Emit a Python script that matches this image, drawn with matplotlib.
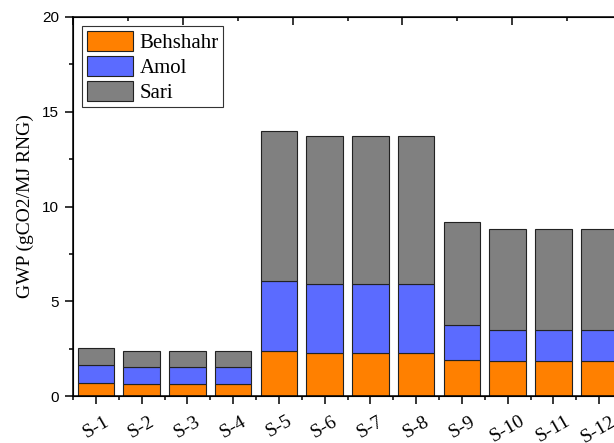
import numpy as np
import matplotlib
matplotlib.use('Agg')
import matplotlib.pyplot as plt
from matplotlib.ticker import MultipleLocator

# Data (stacked GWP contributions)
scenarios = ['S-1', 'S-2', 'S-3', 'S-4', 'S-5', 'S-6',
             'S-7', 'S-8', 'S-9', 'S-10', 'S-11', 'S-12']
behshahr = [0.70, 0.65, 0.65, 0.65, 2.37, 2.25, 2.25, 2.25, 1.90, 1.83, 1.83, 1.83]
amol = [0.92, 0.90, 0.90, 0.90, 3.71, 3.64, 3.64, 3.64, 1.83, 1.67, 1.67, 1.67]
sari = [0.90, 0.82, 0.82, 0.82, 7.92, 7.81, 7.81, 7.81, 5.44, 5.31, 5.31, 5.31]

serif = 'Liberation Serif'
sans = 'Liberation Sans'

fig = plt.figure(figsize=(6.14, 4.43), dpi=100)
ax = fig.add_axes([73 / 614, 47 / 443, 549 / 614, 379 / 443])

x = np.arange(1, len(scenarios) + 1)
b1 = np.array(behshahr)
b2 = b1 + np.array(amol)
ax.bar(x, behshahr, width=0.8, color='#FF8000', edgecolor='#222222', linewidth=0.8, label='Behshahr')
ax.bar(x, amol, width=0.8, bottom=b1, color='#5B6BFF', edgecolor='#222222', linewidth=0.8, label='Amol')
ax.bar(x, sari, width=0.8, bottom=b2, color='#808080', edgecolor='#222222', linewidth=0.8, label='Sari')

ax.set_xlim(0.5, 12.5)
ax.set_ylim(0, 20)

ax.set_xticks(x)
ax.set_xticklabels(scenarios, rotation=30, ha='center', fontfamily=serif, fontsize=14)
ax.xaxis.set_minor_locator(MultipleLocator(1, offset=0.5))
ax.yaxis.set_major_locator(MultipleLocator(5))
ax.yaxis.set_minor_locator(MultipleLocator(2.5))
for lbl in ax.get_yticklabels():
    lbl.set_fontfamily(sans)
    lbl.set_fontsize(11)

ax.tick_params(axis='x', which='major', direction='out', length=6, width=1.1, pad=6)
ax.tick_params(axis='x', which='minor', direction='out', length=3, width=1.1)
ax.tick_params(axis='y', which='major', direction='out', length=6, width=1.1, pad=4)
ax.tick_params(axis='y', which='minor', direction='out', length=3, width=1.1)

for sp in ax.spines.values():
    sp.set_linewidth(1.1)

# top axis with its own inward ticks
top = ax.twiny()
top.set_xlim(0, 5)
top.xaxis.set_major_locator(MultipleLocator(1))
top.xaxis.set_minor_locator(MultipleLocator(0.5))
top.tick_params(axis='x', which='major', direction='in', length=6, width=1.1, labeltop=False)
top.tick_params(axis='x', which='minor', direction='in', length=3, width=1.1)

ax.set_ylabel('GWP (gCO2/MJ RNG)', fontfamily=serif, fontsize=14, labelpad=6)

leg = ax.legend(loc='upper left', prop={'family': serif, 'size': 15},
                fancybox=False, edgecolor='#333333', framealpha=1,
                handlelength=2.25, handleheight=1.1, labelspacing=0.15,
                handletextpad=0.3, borderpad=0.2, borderaxespad=0.45)
leg.get_frame().set_linewidth(0.8)

plt.savefig('out.png', dpi=100)
